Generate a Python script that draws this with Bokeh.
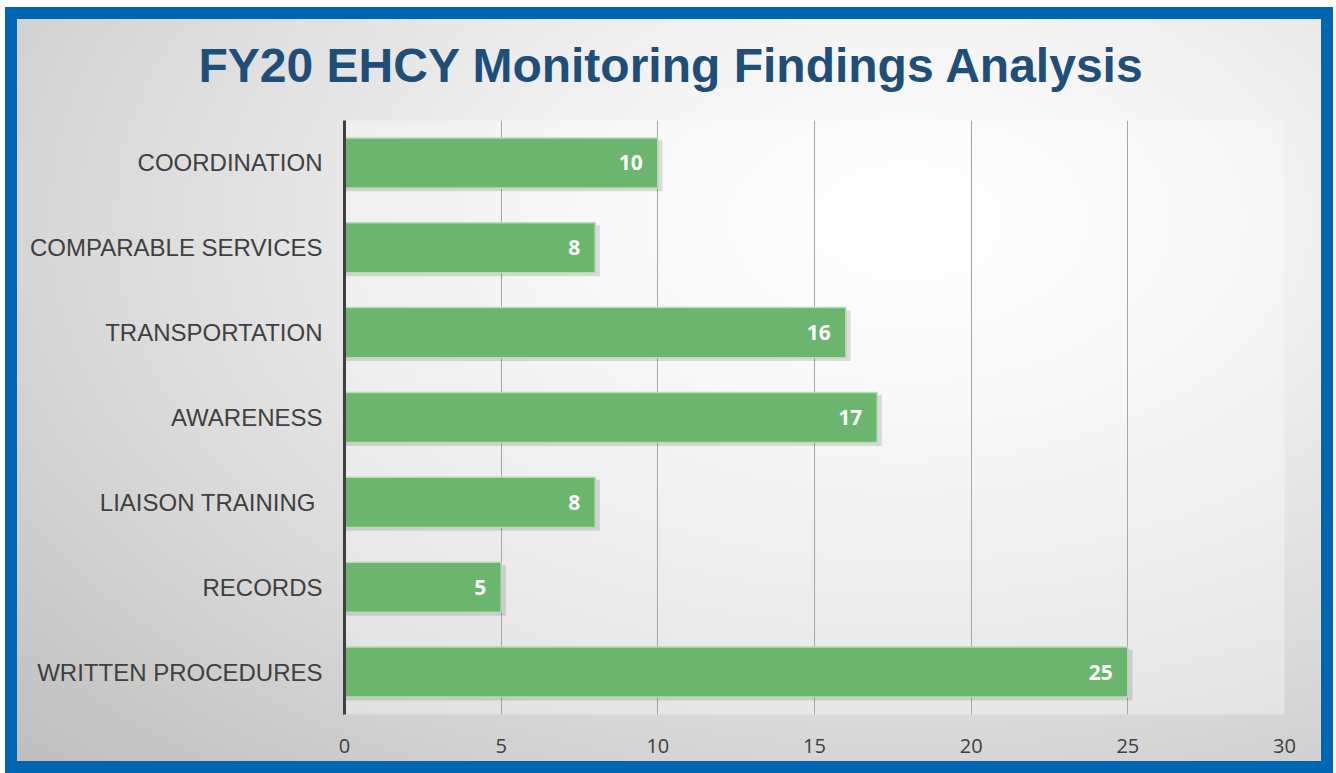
from bokeh.plotting import figure
from bokeh.models import FactorRange, ColumnDataSource
from bokeh.transform import dodge
from bokeh.core.properties import value
from bokeh.embed import file_html
from bokeh.resources import INLINE

categories = ["COORDINATION", "COMPARABLE SERVICES", "TRANSPORTATION", "AWARENESS",
              "LIAISON TRAINING ", "RECORDS", "WRITTEN PROCEDURES"]
counts = [10, 8, 16, 17, 8, 5, 25]
x_ticks = [0, 5, 10, 15, 20, 25, 30]
title_text = "FY20 EHCY Monitoring Findings Analysis"

src = ColumnDataSource(dict(
    cat=categories,
    val=counts,
    lbl=[str(v) for v in counts],
    shadow=[v + 0.15 for v in counts],
))

p = figure(
    width=1328, height=766,
    y_range=FactorRange(factors=list(reversed(categories)), range_padding=0),
    x_range=(0, 30),
    output_backend="svg", toolbar_location=None,
    min_border_left=339, min_border_right=49, min_border_top=113, min_border_bottom=59,
)
p.styles = {
    "margin-left": "5px",
    "margin-top": "7px",
    "outline": "12px solid #0066B3",
    "outline-offset": "-12px",
    "background": "radial-gradient(ellipse at 68% 28%, #ffffff 0%, #f4f4f4 25%, #d9d9d9 65%, #bdbdbd 100%)",
}
p.border_fill_alpha = 0
p.background_fill_color = "white"
p.background_fill_alpha = 0.35
p.outline_line_color = None

p.title.text = title_text
p.title.align = "left"
p.title.text_font = "Liberation Sans"
p.title.text_font_style = "bold"
p.title.text_font_size = "48px"
p.title.text_color = "#1F4E79"
p.title.offset = -146
p.title.standoff = 58

# grid
p.ygrid.grid_line_color = None
p.xgrid.ticker = x_ticks
p.xgrid.grid_line_color = "#a6a6a6"
p.xgrid.grid_line_width = 1

# shadows
p.hbar(y=dodge("cat", -0.035, range=p.y_range), left=0, right="shadow", height=0.6,
       source=src, fill_color="black", fill_alpha=0.12, line_color=None)
# bars
p.hbar(y="cat", left=0, right="val", height=0.59, source=src,
       fill_color="#6BB56F", line_color="#B5DDB3", line_width=1.5)

p.text(x="val", y="cat", text="lbl", source=src, x_offset=-15,
       text_align="right", text_baseline="middle",
       text_font=value("Open Sans"), text_font_style="bold",
       text_font_size="21px", text_color="white")

# axes
p.yaxis.axis_line_color = "#404040"
p.yaxis.axis_line_width = 3
p.yaxis.major_tick_line_color = None
p.yaxis.minor_tick_line_color = None
p.yaxis.major_label_text_font = "Liberation Sans"
p.yaxis.major_label_text_font_size = "24px"
p.yaxis.major_label_text_color = "#404040"
p.yaxis.major_label_standoff = 16

p.xaxis.ticker = x_ticks
p.xaxis.axis_line_color = None
p.xaxis.major_tick_line_color = None
p.xaxis.minor_tick_line_color = None
p.xaxis.major_label_text_font = "Open Sans"
p.xaxis.major_label_text_font_size = "20px"
p.xaxis.major_label_text_color = "#404040"
p.xaxis.major_label_standoff = 18

open("out.html", "w").write(file_html(p, INLINE))
